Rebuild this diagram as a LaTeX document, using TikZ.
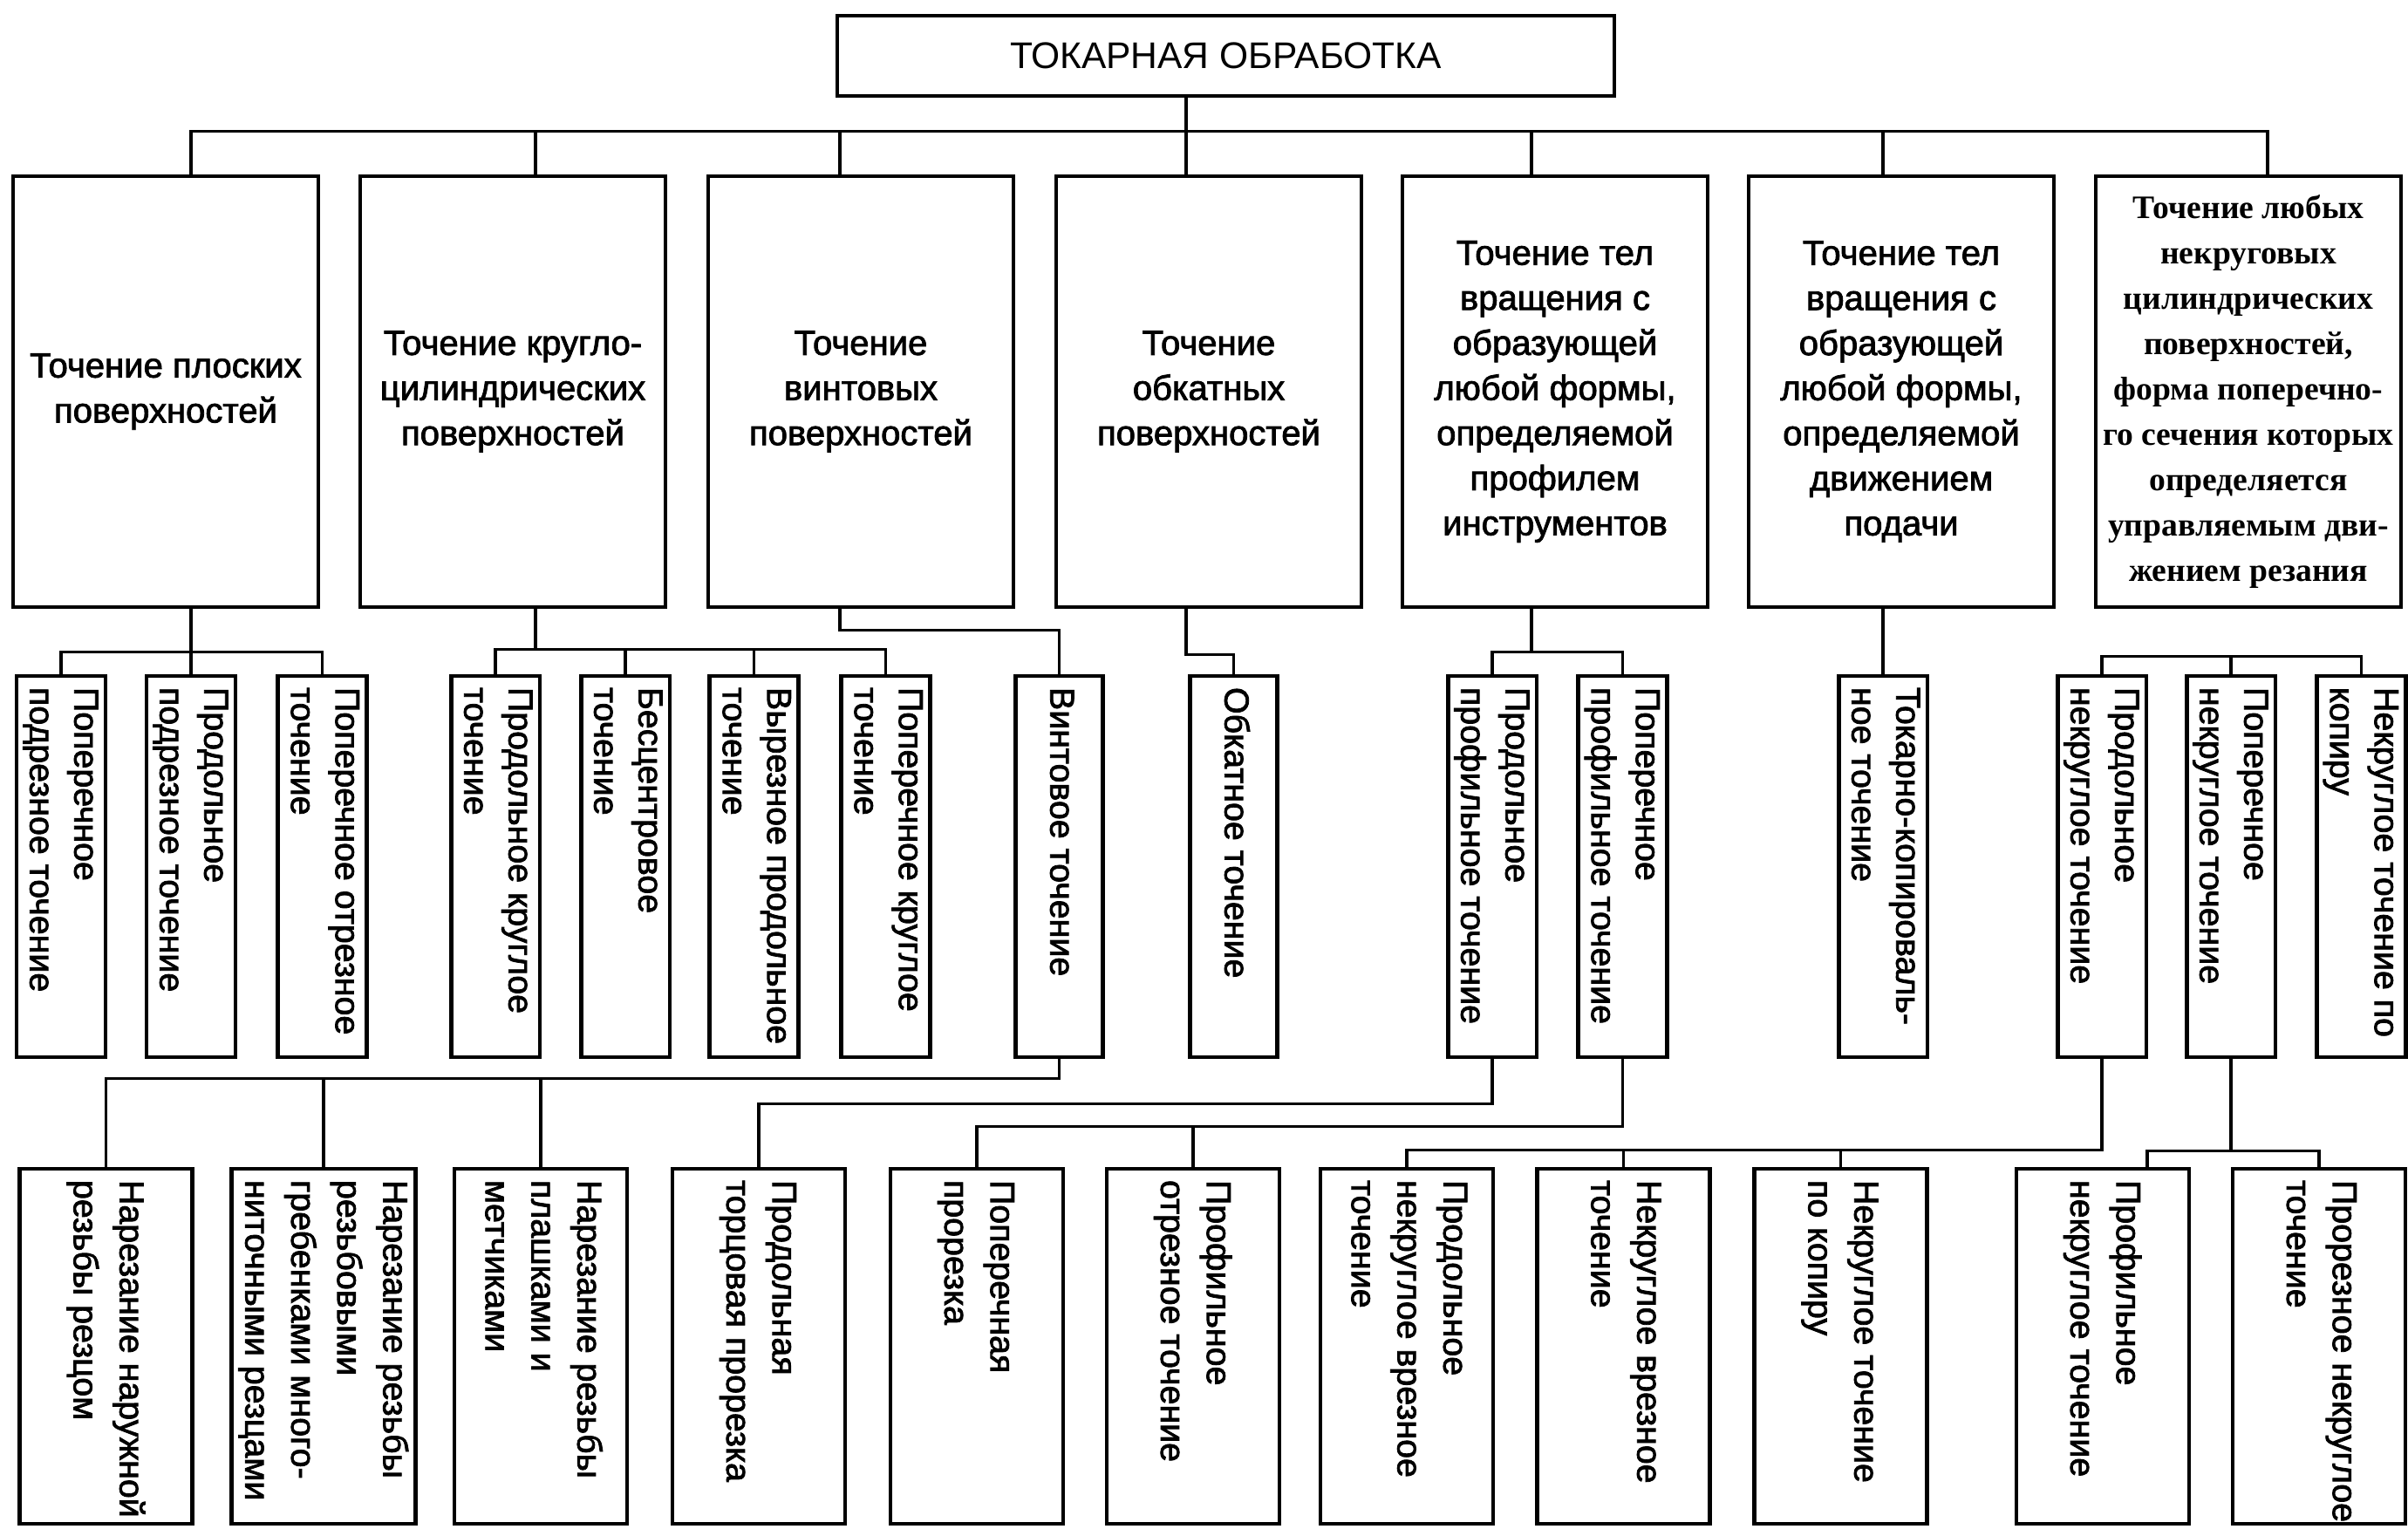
\documentclass[tikz,border=0pt]{standalone}
\usepackage{fontspec}
\usepackage{graphicx}
\setmainfont{Liberation Sans}
\newfontfamily\heavyfont{Liberation Sans}[FakeBold=2]
\newfontfamily\serifheavy{Liberation Serif}
\newcommand{\vlabel}[2]{\rotatebox{-90}{\makebox[#1][l]{\begin{tabular}{@{}l@{}}#2\end{tabular}}}}

\begin{document}
\begin{tikzpicture}[
    box/.style={draw, line width=1.4pt, inner sep=0pt},
    rootbox/.style={box, minimum width=8.91cm, minimum height=0.92cm, font=\fontsize{12.1}{14}\selectfont},
    groupbox/.style={box, minimum width=3.5cm, minimum height=4.94cm, align=center, font=\heavyfont\fontsize{11.4}{14.7}\selectfont},
    midbox/.style={box, minimum width=1cm, minimum height=4.37cm, font=\heavyfont\fontsize{11.2}{14.5}\selectfont},
    lowbox/.style={box, minimum width=1.98cm, minimum height=4.07cm, font=\heavyfont\fontsize{11.2}{15}\selectfont},
    link/.style={line width=1pt}]
    \useasboundingbox (0,0) rectangle (27.61,17.61);
    \node[rootbox] (root) at (14.055,16.97) {ТОКАРНАЯ ОБРАБОТКА};
    \node[groupbox] (t1) at (1.90,13.12) {Точение плоских\\поверхностей};
    \node[groupbox] (t2) at (5.88,13.12) {Точение кругло-\\цилиндрических\\поверхностей};
    \node[groupbox] (t3) at (9.87,13.12) {Точение\\винтовых\\поверхностей};
    \node[groupbox] (t4) at (13.86,13.12) {Точение\\обкатных\\поверхностей};
    \node[groupbox] (t5) at (17.83,13.12) {Точение тел\\вращения с\\образующей\\любой формы,\\определяемой\\профилем\\инструментов};
    \node[groupbox] (t6) at (21.80,13.12) {Точение тел\\вращения с\\образующей\\любой формы,\\определяемой\\движением\\подачи};
    \node[groupbox, font=\serifheavy\bfseries\fontsize{10.7}{14.8}\selectfont] (t7) at (25.78,13.12) {Точение любых\\некруговых\\цилиндрических\\поверхностей,\\форма поперечно-\\го сечения которых\\определяется\\управляемым дви-\\жением резания};

    \node[midbox] (m1) at (0.70,7.675) {\vlabel{4.11cm}{Поперечное\\подрезное точение}};
    \node[midbox] (m2) at (2.19,7.675) {\vlabel{4.11cm}{Продольное\\подрезное точение}};
    \node[midbox] (m3) at (3.695,7.675) {\vlabel{4.11cm}{Поперечное отрезное\\точение}};
    \node[midbox] (m4) at (5.68,7.675) {\vlabel{4.11cm}{Продольное круглое\\точение}};
    \node[midbox] (m5) at (7.17,7.675) {\vlabel{4.11cm}{Бесцентровое\\точение}};
    \node[midbox] (m6) at (8.645,7.675) {\vlabel{4.11cm}{Вырезное продольное\\точение}};
    \node[midbox] (m7) at (10.155,7.675) {\vlabel{4.11cm}{Поперечное круглое\\точение}};
    \node[midbox] (m8) at (12.145,7.675) {\vlabel{4.11cm}{Винтовое точение}};
    \node[midbox] (m9) at (14.145,7.675) {\vlabel{4.11cm}{Обкатное точение}};
    \node[midbox] (m10) at (17.11,7.675) {\vlabel{4.11cm}{Продольное\\профильное точение}};
    \node[midbox] (m11) at (18.605,7.675) {\vlabel{4.11cm}{Поперечное\\профильное точение}};
    \node[midbox] (m12) at (21.59,7.675) {\vlabel{4.11cm}{Токарно-копироваль-\\ное точение}};
    \node[midbox] (m13) at (24.10,7.675) {\vlabel{4.11cm}{Продольное\\некруглое точение}};
    \node[midbox] (m14) at (25.58,7.675) {\vlabel{4.11cm}{Поперечное\\некруглое точение}};
    \node[midbox] (m15) at (27.075,7.675) {\vlabel{4.11cm}{Некруглое точение по\\копиру}};

    \node[lowbox] (b1) at (1.215,2.175) {\vlabel{3.81cm}{Нарезание наружной\\резьбы резцом}};
    \node[lowbox] (b2) at (3.71,2.175) {\vlabel{3.81cm}{Нарезание резьбы\\резьбовыми\\гребенками много-\\ниточными резцами}};
    \node[lowbox] (b3) at (6.20,2.175) {\vlabel{3.81cm}{Нарезание резьбы\\плашками и\\метчиками}};
    \node[lowbox] (b4) at (8.70,2.175) {\vlabel{3.81cm}{Продольная\\торцовая прорезка}};
    \node[lowbox] (b5) at (11.20,2.175) {\vlabel{3.81cm}{Поперечная\\прорезка}};
    \node[lowbox] (b6) at (13.68,2.175) {\vlabel{3.81cm}{Профильное\\отрезное точение}};
    \node[lowbox] (b7) at (16.13,2.175) {\vlabel{3.81cm}{Продольное\\некруглое врезное\\точение}};
    \node[lowbox] (b8) at (18.615,2.175) {\vlabel{3.81cm}{Некруглое врезное\\точение}};
    \node[lowbox] (b9) at (21.105,2.175) {\vlabel{3.81cm}{Некруглое точение\\по копиру}};
    \node[lowbox] (b10) at (24.11,2.175) {\vlabel{3.81cm}{Профильное\\некруглое точение}};
    \node[lowbox] (b11) at (26.59,2.175) {\vlabel{3.81cm}{Прорезное некруглое\\точение}};

    \draw[link] (t1.north -| m2.north) -- ++(0,.49) -| ([xshift=.22cm]t7.north);
    \foreach \n/\s in {t2/.26,t3/-.24,t5/-.27} \draw[link] ([xshift=\s cm]\n.north) -- ++(0,.49);
    \draw[link] ([xshift=-.26cm]t4.north) -- ++(0,.92);
    \draw[link] (t6.north -| m12.north) -- ++(0,.49);

    \draw[link] (t1.south -| m2.north) -- (m2.north);
    \draw[link] (m1.north) -- ++(0,.25) -| (m3.north);
    \draw[link] (m4.north) -- ++(0,.28) coordinate (g2) -| (m7.north);
    \foreach \n in {m5,m6} \draw[link] (\n.north) -- (\n.north |- g2);
    \draw[link] ([xshift=.26cm]t2.south) |- (g2);
    \draw[link] ([xshift=-.24cm]t3.south) -- ++(0,-.24) -| (m8.north);
    \draw[link] ([xshift=-.26cm]t4.south) -- ++(0,-.52) -| (m9.north);
    \draw[link] (m10.north) -- ++(0,.25) coordinate (g5) -| (m11.north);
    \draw[link] ([xshift=-.27cm]t5.south) |- (g5);
    \draw[link] (t6.south -| m12.north) -- (m12.north);
    \draw[link] (m13.north) -- ++(0,.2) coordinate (g7) -| (m15.north);
    \draw[link] (m14.north) -- (m14.north |- g7);

    \draw[link] (m8.south) -- ++(0,-.22) coordinate (h8) -| (b1.north);
    \foreach \n in {b2,b3} \draw[link] (\n.north) -- (\n.north |- h8);
    \draw[link] (m10.south) -- ++(0,-.51) -| (b4.north);
    \draw[link] (m11.south) -- ++(0,-.77) coordinate (h11) -| (b5.north);
    \draw[link] (b6.north) -- (b6.north |- h11);
    \draw[link] (m13.south) -- ++(0,-1.04) coordinate (h13) -| (b7.north);
    \foreach \n in {b8,b9} \draw[link] (\n.north) -- (\n.north |- h13);
    \draw[link] (m14.south) -- ++(0,-1.05) coordinate (h14);
    \draw[link] ([xshift=.51cm]b10.north) |- (h14) -| (b11.north);
\end{tikzpicture}
\end{document}
